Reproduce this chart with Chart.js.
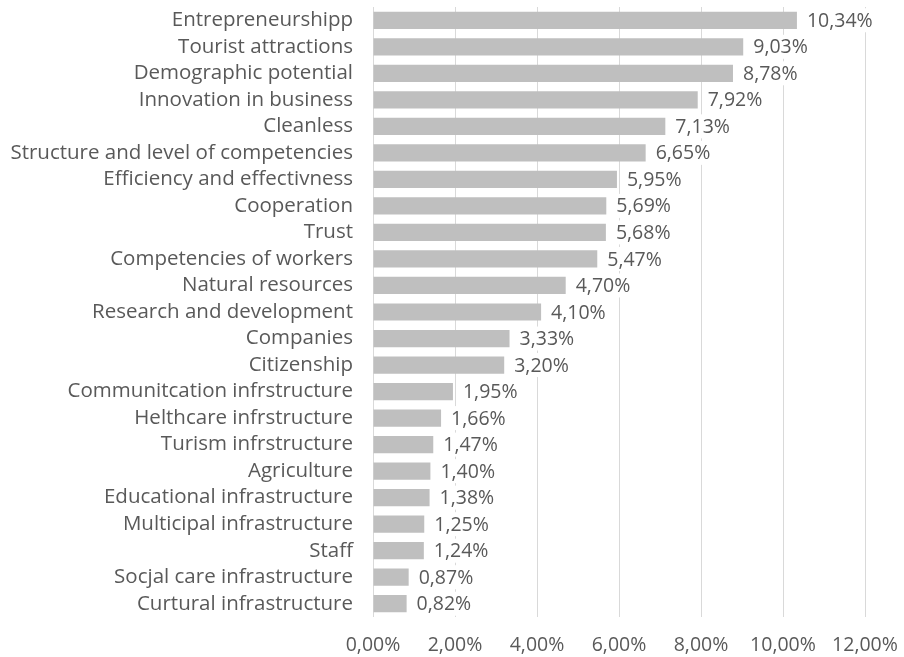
<!DOCTYPE html>
<html>
<head>
<meta charset="utf-8">
<script src="https://cdn.jsdelivr.net/npm/chart.js@4"></script>
<style>
  html, body { margin: 0; padding: 0; background: #ffffff; }
  #wrap { width: 904px; height: 657px; }
</style>
</head>
<body>
<div id="wrap"><canvas id="myChart" width="904" height="657"></canvas></div>
<script>
const categories = [
  "Entrepreneurshipp", "Tourist attractions", "Demographic potential",
  "Innovation in business", "Cleanless", "Structure and level of competencies",
  "Efficiency and effectivness", "Cooperation", "Trust", "Competencies of workers",
  "Natural resources", "Research and development", "Companies", "Citizenship",
  "Communitcation infrstructure", "Helthcare infrstructure", "Turism infrstructure",
  "Agriculture", "Educational infrastructure", "Multicipal infrastructure", "Staff",
  "Socjal care infrastructure", "Curtural infrastructure"
];
const values = [
  10.34, 9.03, 8.78, 7.92, 7.13, 6.65, 5.95, 5.69, 5.68, 5.47, 4.70, 4.10,
  3.33, 3.20, 1.95, 1.66, 1.47, 1.40, 1.38, 1.25, 1.24, 0.87, 0.82
];
const xTicks = [0, 2, 4, 6, 8, 10, 12];

const fontFamily = "'Open Sans', sans-serif";
const textColor = "#595959";

function pct(v) {
  return v.toFixed(2).replace(".", ",") + "%";
}

// etykiety wartosci na koncu slupkow (z bialym tlem jak w Excelu)
const valueLabels = {
  id: "valueLabels",
  afterDatasetsDraw(chart) {
    const ctx = chart.ctx;
    const meta = chart.getDatasetMeta(0);
    ctx.save();
    ctx.font = "19.5px " + fontFamily;
    ctx.textBaseline = "middle";
    ctx.textAlign = "left";
    meta.data.forEach((bar, i) => {
      const txt = pct(values[i]);
      const x = bar.x + 10;
      const w = ctx.measureText(txt).width;
      ctx.fillStyle = "#ffffff";
      ctx.fillRect(x - 2, bar.y - 12, w + 4, 24);
      ctx.fillStyle = textColor;
      ctx.fillText(txt, x, bar.y + 1);
    });
    ctx.restore();
  }
};

const ctx = document.getElementById("myChart").getContext("2d");
new Chart(ctx, {
  type: "bar",
  data: {
    labels: categories,
    datasets: [
      {
        data: values,
        backgroundColor: "#bfbfbf",
        borderWidth: 0,
        categoryPercentage: 1,
        barPercentage: 0.65,
      },
    ],
  },
  options: {
    indexAxis: "y",
    responsive: false,
    animation: false,
    layout: { padding: { top: 7, right: 39, bottom: 2, left: 0 } },
    plugins: {
      legend: { display: false },
      tooltip: { enabled: false },
    },
    scales: {
      x: {
        min: 0,
        max: 12,
        afterBuildTicks: (scale) => {
          scale.ticks = xTicks.map((v) => ({ value: v }));
        },
        afterFit: (scale) => {
          scale.height = 38;
          scale.paddingLeft = 0;
          scale.paddingRight = 0;
        },
        grid: { color: "#d9d9d9", drawTicks: false },
        border: { display: false },
        ticks: {
          color: textColor,
          font: { family: fontFamily, size: 19.5 },
          padding: 17,
          maxRotation: 0,
          callback: (v) => pct(v),
        },
      },
      y: {
        grid: { display: false },
        border: { display: false },
        afterFit: (scale) => {
          scale.width = 373;
          scale.paddingTop = 0;
          scale.paddingBottom = 0;
        },
        ticks: {
          color: textColor,
          font: { family: fontFamily, size: 20.5 },
          padding: 12,
          autoSkip: false,
        },
      },
    },
  },
  plugins: [valueLabels],
});
</script>
</body>
</html>
